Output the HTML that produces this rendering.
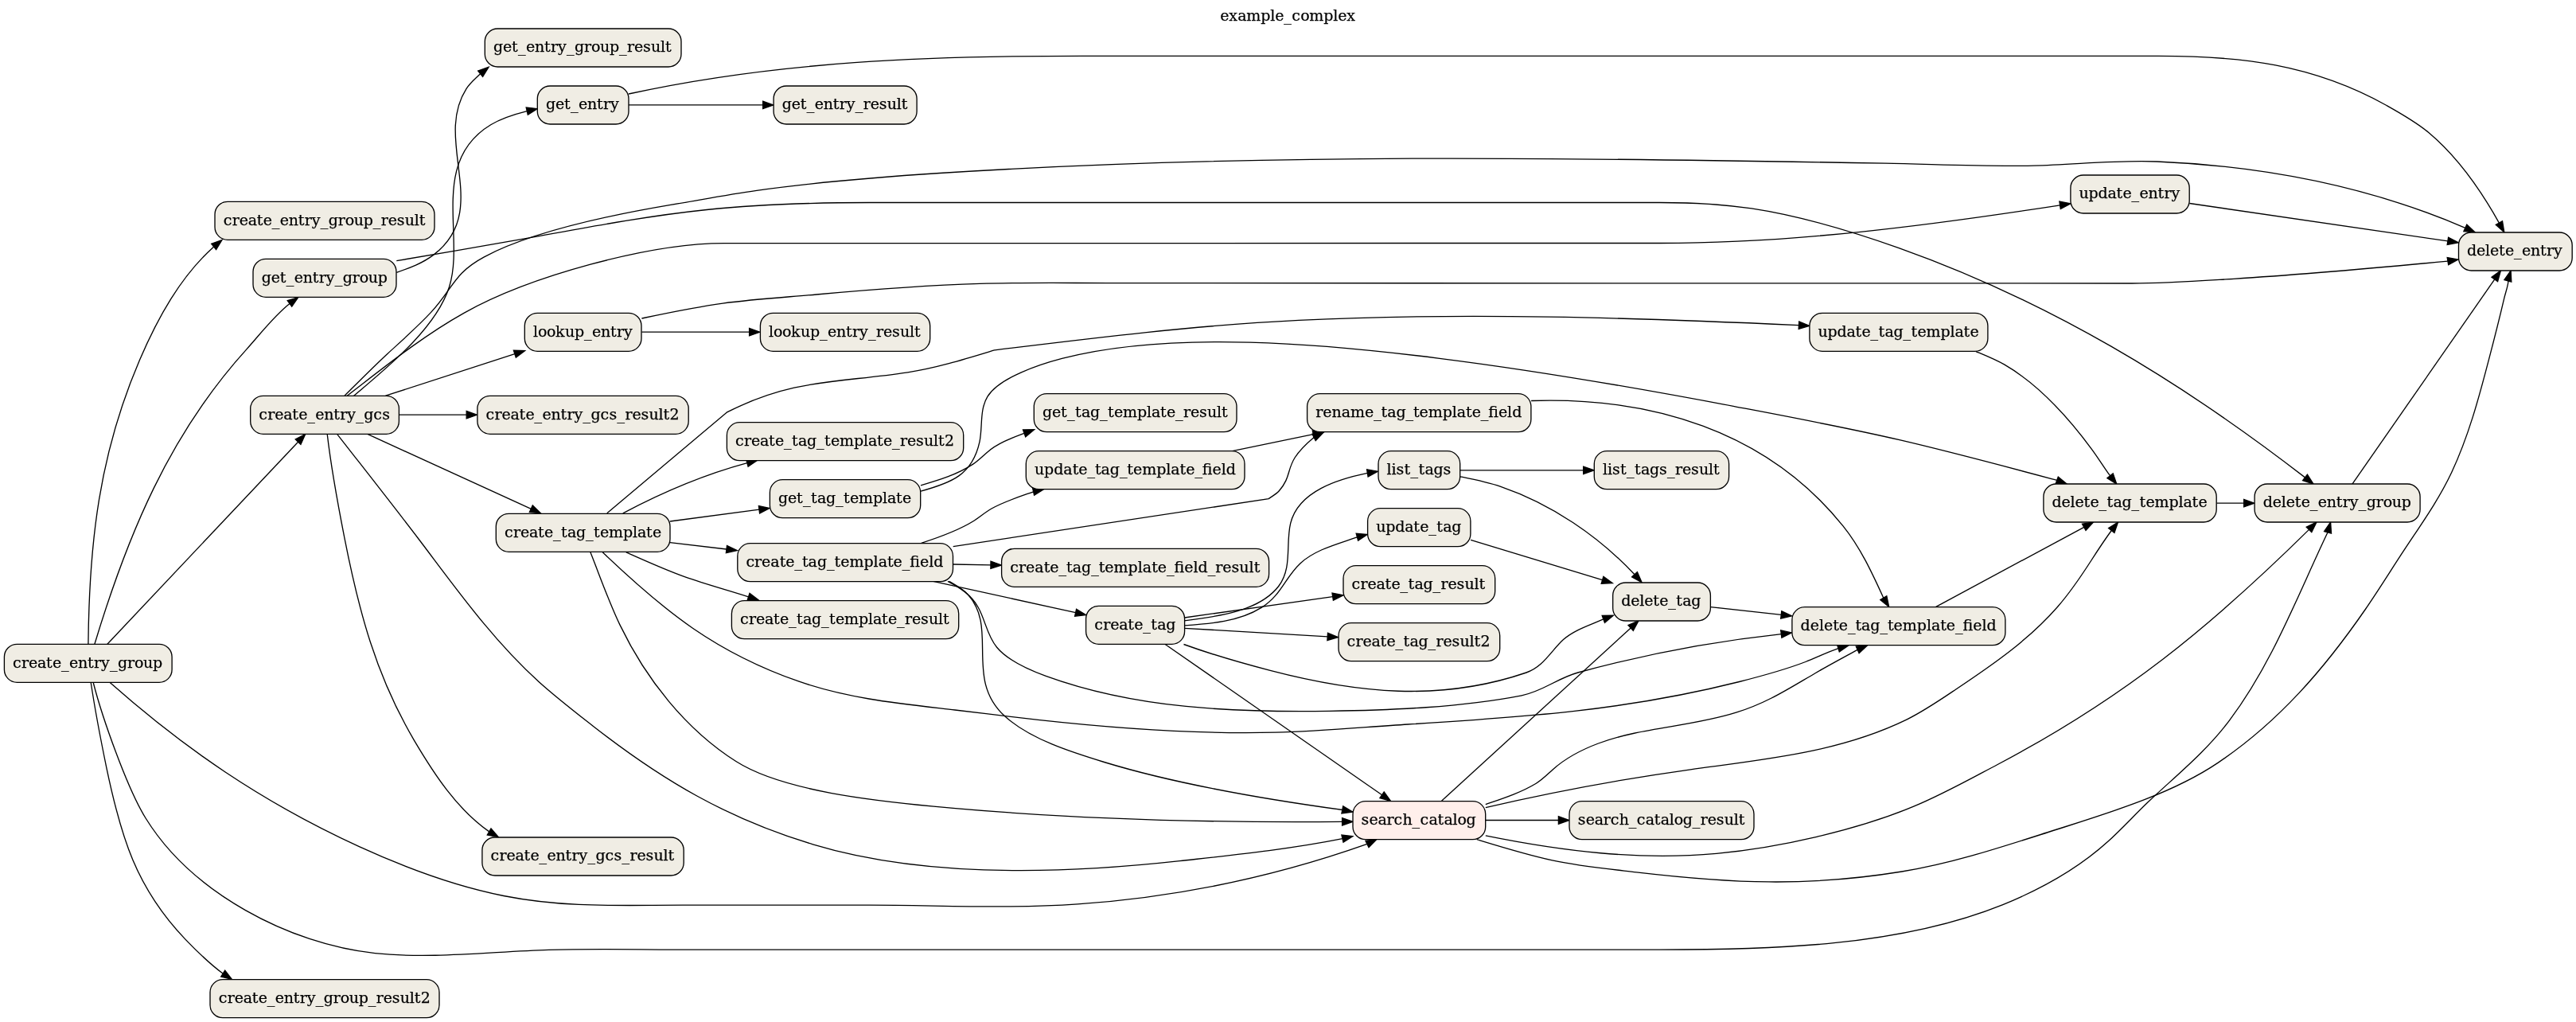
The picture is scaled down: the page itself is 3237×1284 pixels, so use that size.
<!DOCTYPE html>
<html><head><meta charset="utf-8"><title>example_complex</title>
<style>
html,body{margin:0;padding:0;background:#fff}
body{width:3237px;height:1284px;overflow:hidden}
svg{display:block;will-change:transform}
.e path{fill:none;stroke:#000;stroke-width:1.33}
.e polygon{fill:#000;stroke:#000;stroke-width:1.33}
.n rect{fill:#f0ede4;stroke:#000;stroke-width:1.33}
.n rect.p{fill:#ffefeb}
.t text{font-family:"DejaVu Serif","Liberation Serif",serif;font-size:19px;fill:#000;stroke:#000;stroke-width:0.25px}
</style></head><body>
<svg width="3237" height="1284" viewBox="0 0 3237 1284">
<g class="e">
<path d="M110.9,809.2C112,681.9 124.7,570.6 175.5,452.2C197.8,400.2 226.3,348 268.7,309.9"/><polygon points="279,301.5 271.6,313.6 265.7,306.3"/>
<path d="M118.9,809.2C160.2,672.7 212.5,546.1 309.6,439.1C327.5,419.4 343,398.2 363.9,381.5"/><polygon points="374.7,373.6 366.7,385.2 361.2,377.7"/>
<path d="M134.9,809.2L374.6,555.2"/><polygon points="383.7,545.5 377.9,558.4 371.2,552"/>
<path d="M114.2,857.5C119.7,893.6 126.5,929.1 133.9,964.8C151.8,1050.4 170.8,1115.3 232.9,1180.1C248,1195.8 262.6,1210.3 280.2,1223.2"/><polygon points="291.4,1230.4 277.7,1227.1 282.7,1219.2"/>
<path d="M117.2,857.5C128.5,901.6 159.9,990.7 183.1,1028C241.1,1121.6 363.3,1186.1 471.3,1197.6C542.3,1205.1 617.9,1195.5 689.5,1193.4C745.7,1191.7 801.8,1193.1 858,1193.1L2085.6,1193.1C2225.3,1193.1 2386,1189.5 2516.8,1136.6C2563.9,1117.5 2610.9,1091.6 2648.8,1057.3C2666.9,1040.9 2683.2,1022.8 2701,1006C2736.3,972.9 2772.1,944.2 2801.5,905.1C2855.4,833.4 2886.7,749.1 2925,668.8"/><polygon points="2928.6,656 2929.5,670.1 2920.6,667.6"/>
<path d="M138.2,857.5C184.1,898.1 232.1,935.9 283.1,970C380.9,1035.3 517.4,1102.6 632.9,1125.5C709.9,1140.8 780.5,1137.2 858,1137.2L1092.8,1137.2C1179.9,1137.2 1267.1,1141.9 1354.2,1135.9C1477.4,1127.3 1601.5,1101.6 1717.9,1060.4"/><polygon points="1729.9,1054.6 1720,1064.6 1715.9,1056.2"/>
<path d="M498.3,342.3C514.9,336.6 530.8,330.8 544.9,320.1C618.6,263.8 543.7,177.3 586.1,111.4C590.9,103.9 597.4,98.8 603.6,92.7"/><polygon points="614,84.3 606.6,96.3 600.7,89.1"/>
<path d="M498.3,327.7C553.8,318.2 609.4,308.9 664.8,298.9C739,285.4 812.9,271.3 888,263.5C956.2,256.4 1024.5,254.5 1093,254.5L2085.6,254.5C2124.2,254.5 2162.8,256.2 2201,261.9C2264.4,271.5 2325.9,290.2 2386.2,311.6C2573.7,378.3 2739.6,478.4 2896.5,599.9"/><polygon points="2907,608.1 2893.6,603.6 2899.4,596.2"/>
<path d="M444.7,497.2C486,462.1 547.7,413.1 564.6,360.2C584.6,297 539.4,203.6 616.7,156.8C631,148.2 646.2,143.7 662.2,139.7"/><polygon points="675.2,136.6 663.3,144.2 661.2,135.1"/>
<path d="M433,497.2C450.8,479.5 468.5,461.6 486.9,444.5C505.5,427.4 524.3,410.9 541.6,392.4C569.6,362.4 569.4,343.7 608.4,322.8C669.2,290.3 774,269 842.7,257.4C878.7,251.4 914.6,244.4 950.9,239.3C1027.1,228.7 1104.1,222.4 1180.9,217.5C1576.3,192.1 1973.2,198.1 2369,205.2C2431.1,206.3 2493.4,209.4 2555.5,208.1C2607.3,207 2658.7,200.8 2710.6,203C2845.3,208.7 2973.6,232.9 3097.8,286.3"/><polygon points="3110,291.8 3095.9,290.6 3099.8,282.1"/>
<path d="M436.3,497.2C483.6,460.8 530.7,422.5 582.9,393.3C665.2,347.2 815.7,305.6 910,305.6L2085.6,305.5C2254,305.5 2422.5,283.5 2588.6,257.8"/><polygon points="2601.8,255.8 2589.3,262.5 2587.9,253.2"/>
<path d="M484.6,497.2L646.8,444.7"/><polygon points="659.5,440.6 648.3,449.1 645.4,440.3"/>
<path d="M501.6,521.2L586.2,521.2"/><polygon points="599.5,521.2 586.2,525.9 586.2,516.5"/>
<path d="M461.3,545.2L667.4,639.3"/><polygon points="679.5,644.8 665.4,643.5 669.3,635"/>
<path d="M411.2,545.3C416.3,589.2 424.3,632 432.8,675.3C450.9,767.4 472.3,848.7 520.7,930.6C545.4,972.3 574.4,1016.8 614.7,1044.9"/><polygon points="626.2,1051.6 612.3,1049 617,1040.9"/>
<path d="M423.6,545.3C457.9,589.3 492.5,633.1 526.3,677.5C573.5,739.7 618.7,803.8 677,856.5C698.7,876.1 721.9,894 744.9,912C832.9,980.7 913.7,1028.4 1021.4,1060.8C1161.9,1103.1 1337.9,1097.7 1482.5,1081.7C1550.9,1074.1 1619.4,1067.2 1686.9,1053.7"/><polygon points="1699.9,1050.6 1688,1058.2 1685.9,1049.1"/>
<path d="M806.4,417.2L941.6,417.2"/><polygon points="954.9,417.2 941.6,421.9 941.6,412.5"/>
<path d="M806.4,400C840.2,392.9 874,385.7 908.2,381.1C947.3,375.9 986.7,373.5 1026,370C1094.3,363.8 1162.5,358.5 1231,356.4C1284.8,354.8 1338.7,355.6 1392.5,355.6L2678.8,356C2721.6,356 2764.2,352.9 2806.9,350.3C2896.7,344.8 2986.4,336.6 3075.9,328.1"/><polygon points="3089.1,326 3076.7,332.8 3075.2,323.5"/>
<path d="M790,131.9L958.7,131.9"/><polygon points="972,131.9 958.7,136.6 958.7,127.2"/>
<path d="M790,118C977.9,76.8 1168.4,70.3 1360,70.3L2712,70.3C2815.9,70.3 2905.7,80.7 2998.1,132C3016.5,142.3 3035.6,152.9 3051.8,166.5C3088.8,197.5 3117.1,238.3 3140.4,280.1"/><polygon points="3146.8,291.8 3136.3,282.4 3144.5,277.9"/>
<path d="M762.8,644.8L913.1,518.2C996.5,475.5 1052.8,481.2 1140.7,467.8C1177.8,462.1 1213.7,450.8 1249.5,439.9C1376.5,424.3 1504.2,408.6 1632.1,402.3C1841.7,392.1 2051,399.2 2260.5,408.6"/><polygon points="2273.8,409.3 2260.2,413.3 2260.7,403.9"/>
<path d="M782.8,644.9C833.2,618.1 883.7,596.6 938.9,581.7"/><polygon points="951.8,578.3 940.1,586.2 937.7,577.2"/>
<path d="M842,655L954,640.2"/><polygon points="967.2,638.5 954.6,644.9 953.4,635.6"/>
<path d="M842,681.6L913,690"/><polygon points="926.2,691.6 912.4,694.7 913.5,685.4"/>
<path d="M786.8,693.8C811,704.6 835.3,715.6 860.3,724.6C886.7,734 913.9,741.2 940.5,749.8"/><polygon points="953.2,754 939.1,754.3 942,745.4"/>
<path d="M757.2,693.8C835.7,768.7 899.4,819.8 1004.1,856.2C1067.4,878.2 1133.9,884.3 1200,892C1234.8,896.1 1269.6,900.5 1304.4,904.4C1401.3,915.1 1505.1,922.7 1602.6,920.2C1658.2,918.8 1713.9,913.5 1769.5,910C1915.8,900.9 2042.1,892.7 2185.6,856.5C2213.6,849.4 2241.8,841.9 2268.8,831.5C2282.7,826.1 2295.9,819.4 2310,814.6"/><polygon points="2322.8,810.9 2311.3,819 2308.7,810.1"/>
<path d="M741.9,693.8C754,724.2 764.8,755.6 779,785.1C811.5,852.7 861.4,916.3 925.2,956.8C984.5,994.4 1103.2,1006.4 1173.2,1013.1C1344,1029.4 1515,1033.8 1686.6,1032.3"/><polygon points="1699.9,1032.3 1686.6,1037 1686.6,1027.6"/>
<path d="M1157,617.1C1195,606.8 1221.9,596.9 1231,554.8C1234.9,536.5 1230.7,514.9 1241,498.2C1255.9,474.1 1308,457.3 1334.5,450.4C1473.7,414.4 1666.4,432.3 1809,450.3C1933.3,466 2056.3,487.2 2179.4,510.6C2248.8,523.8 2318.2,536.7 2386.9,552.7C2453.2,568.1 2519,585.8 2584.7,603.4"/><polygon points="2597.2,608.1 2583.1,607.8 2586.3,599.1"/>
<path d="M1157,609.8C1179.6,603.2 1202.9,596.2 1222.7,583.1C1229.1,578.9 1234.5,573.4 1240.3,568.4C1253.8,556.7 1270.6,550.6 1287.1,544.4"/><polygon points="1299.6,539.8 1288.7,548.8 1285.5,540"/>
<path d="M1157.7,682.3C1180.1,675.1 1202.5,667.4 1222.7,655C1230.7,650.1 1237.7,643.6 1246,639C1262.3,629.9 1281.1,624 1298.6,617.8"/><polygon points="1311.6,614.8 1299.6,622.3 1297.6,613.2"/>
<path d="M1197.7,686.6L1594.1,626.6C1598.6,623.3 1603.6,621.1 1607.3,616.8C1628.1,592.7 1609.6,584.1 1651.1,549.4"/><polygon points="1663,543.3 1653.2,553.5 1649,545.2"/>
<path d="M1197.7,709L1245,709.8"/><polygon points="1258.3,710 1244.9,714.4 1245,705.1"/>
<path d="M1172.7,730.3L1351.6,769.7"/><polygon points="1364.6,772.6 1350.6,774.3 1352.6,765.2"/>
<path d="M1191,730.3C1206.7,738.6 1220.4,747.2 1229.3,763.2C1238.4,779.5 1240.2,798.3 1252.6,813.2C1267,830.5 1293.6,841.8 1314.3,849.3C1427,890.4 1552,895.2 1670.8,893.4C1749.1,892.2 1835.2,888.7 1912.1,873.8C1938.5,868.8 1956.1,852.4 1982.8,845C2066.9,822 2151.6,805.9 2238.3,796.6"/><polygon points="2251.5,794.9 2238.9,801.2 2237.7,791.9"/>
<path d="M1192.7,730.3C1200.9,735.2 1209.4,739.4 1216,746.6C1255.4,789.7 1210.7,852.6 1262.9,900C1294.6,928.8 1347.1,945.2 1387.5,957.5C1478.7,985.3 1592,1004.5 1686.8,1017.5"/><polygon points="1699.9,1020 1685.9,1022 1687.7,1012.9"/>
<path d="M1547.4,566.8L1650.2,545.7"/><polygon points="1663.3,543 1651.2,550.3 1649.3,541.1"/>
<path d="M1488.5,779.8C1526.5,775 1581.7,769 1606.7,736.5C1624.2,713.8 1615.4,683.4 1621.7,657.4C1631.6,616.6 1682.7,601.6 1718.3,594.3"/><polygon points="1731.5,592.2 1719.1,598.9 1717.6,589.7"/>
<path d="M1488.5,785.8C1521.1,783.6 1556.6,781.1 1585.1,763.4C1609.8,748.1 1614.6,725.9 1633.8,707.9C1652.4,690.4 1682,683.1 1705.4,674.8"/><polygon points="1718.3,671.5 1706.6,679.3 1704.2,670.3"/>
<path d="M1488.5,776L1674.7,749.7"/><polygon points="1687.9,747.8 1675.4,754.3 1674,745"/>
<path d="M1488.5,789.3L1668.2,799.8"/><polygon points="1681.5,800.6 1667.9,804.5 1668.5,795.2"/>
<path d="M1487.5,809.5C1523.4,822.5 1559.3,832.8 1596.2,842.4C1704.6,870.7 1809.7,882.1 1918,845C1939.3,837.7 1948.7,818.2 1964.5,803.6C1977.9,791.4 1998.5,785.3 2014.8,777.9"/><polygon points="2027.3,773.2 2016.5,782.3 2013.2,773.5"/>
<path d="M1464.2,809.5L1736.6,998.7"/><polygon points="1747.5,1006.3 1733.9,1002.5 1739.2,994.9"/>
<path d="M1924.1,503.5C2073.4,498.5 2219.2,540.6 2316,660.9C2337.8,687.9 2352.5,719.8 2366.8,751.2"/><polygon points="2373.7,762.6 2362.8,753.6 2370.8,748.8"/>
<path d="M1834.8,590.8L1989.7,590.8"/><polygon points="2003,590.8 1989.7,595.5 1989.7,586.1"/>
<path d="M1834.8,598.8C1852,602.3 1869.2,605.7 1885.8,611.4C1949.1,633.1 2008.4,673.2 2054,721.8"/><polygon points="2063,731.6 2050.6,724.9 2057.4,718.6"/>
<path d="M1848.1,678.3L2013.5,728.7"/><polygon points="2026.3,732.6 2012.2,733.2 2014.9,724.3"/>
<path d="M2149.6,762.6L2238.3,772.4"/><polygon points="2251.5,773.9 2237.7,777.1 2238.8,767.8"/>
<path d="M2432.3,762.6L2618.8,662.3"/><polygon points="2630.5,656 2621,666.4 2616.5,658.2"/>
<path d="M2785.4,632.2L2819.7,632.2"/><polygon points="2833,632.2 2819.7,636.9 2819.7,627.5"/>
<path d="M2955.9,608.1L3134.8,350.9"/><polygon points="3142.4,340 3138.6,353.6 3131,348.3"/>
<path d="M2482.9,441.6C2495.1,446.7 2507.4,451.6 2518.9,458.2C2562.1,483.2 2599.4,524.9 2628.8,564.8C2636.7,575.5 2643.6,586.9 2651.5,597.7"/><polygon points="2659.8,608.1 2647.9,600.6 2655.2,594.8"/>
<path d="M2751.4,255.5L3075.9,302.9"/><polygon points="3089.1,304.8 3075.2,307.5 3076.6,298.3"/>
<path d="M1866.8,1030.5L1958.4,1030.5"/><polygon points="1971.7,1030.5 1958.4,1035.2 1958.4,1025.8"/>
<path d="M1811.5,1006.3L2049.2,788.9"/><polygon points="2059,779.9 2052.3,792.3 2046,785.5"/>
<path d="M1866.8,1010.6C1888.2,1003.2 1910.8,996 1930.3,984.2C1938.3,979.4 1944.5,972.8 1951.4,966.7C1968.5,951.4 1987.3,941.9 2008.5,934C2063.6,913.4 2122.9,913.7 2181.6,895.2C2220.8,882.9 2246.4,865.9 2281.1,845.7C2298.6,835.5 2316.5,826 2334.2,816.3"/><polygon points="2346.4,810.9 2336.1,820.6 2332.3,812"/>
<path d="M1866.8,1014.6C1952.1,994.8 2037.5,978.9 2124.3,966.8C2216.6,954 2310.6,945.6 2395.8,904.1C2417.7,893.4 2437.7,879.6 2457.9,866C2504.2,835 2549,804.3 2585.9,762C2615.4,728.2 2628.4,700.3 2653.3,666.5"/><polygon points="2661.5,656 2656.9,669.4 2649.6,663.6"/>
<path d="M1866.8,1049.9C1962.6,1069.3 2059.1,1081.3 2156.9,1072.3C2234.6,1065.2 2332.7,1043.1 2404.7,1013.2C2441,998.2 2475.5,978.8 2510.2,960.5C2667.9,877.2 2774.9,790 2901.5,665.4"/><polygon points="2911,656 2904.8,668.7 2898.2,662.1"/>
<path d="M1855.8,1054.6C1887.2,1064.2 1918.5,1073.9 1950.6,1080.8C1985.5,1088.3 2020.9,1091.7 2056.3,1095.8C2175.6,1109.7 2270.1,1114.5 2389.9,1095C2452.3,1084.9 2513.8,1064.7 2573.8,1045.5C2643.7,1023.1 2726.7,999.1 2787.4,958.1C2863.6,906.8 2921,839.9 2972.7,765C2989.1,741.2 3004.2,716.7 3020,692.7C3041.5,660 3064,629 3080.7,593.5C3101.8,548.6 3114.6,501 3127.1,453.1C3133.9,427.2 3140.5,401.3 3146.6,375.3C3148.4,367.5 3152.2,358.1 3152.3,350C3152.3,349 3152,353.5 3151.4,352.8"/><polygon points="3155.1,340 3155.8,354.1 3146.9,351.5"/>
</g><g class="n">
<rect x="5.4" y="809.3" width="210.7" height="48" rx="16"/>
<rect x="270" y="253.3" width="276" height="48" rx="16"/>
<rect x="318" y="325.3" width="180" height="48" rx="16"/>
<rect x="314.7" y="497.3" width="186.7" height="48" rx="16"/>
<rect x="264" y="1230.7" width="288" height="48" rx="16"/>
<rect x="609.3" y="36" width="246.7" height="48" rx="16"/>
<rect x="675.3" y="108" width="114.7" height="48" rx="16"/>
<rect x="659.3" y="393.3" width="146.7" height="48" rx="16"/>
<rect x="599.9" y="497.3" width="265.3" height="48" rx="16"/>
<rect x="623.3" y="645.3" width="218.7" height="48" rx="16"/>
<rect x="605.9" y="1052" width="253.3" height="48" rx="16"/>
<rect x="972.1" y="108" width="180" height="48" rx="16"/>
<rect x="955.4" y="393.3" width="213.3" height="48" rx="16"/>
<rect x="913.4" y="530.7" width="297.3" height="48" rx="16"/>
<rect x="967.4" y="602.7" width="189.3" height="48" rx="16"/>
<rect x="926.8" y="682.7" width="270.7" height="48" rx="16"/>
<rect x="919.4" y="754.7" width="285.3" height="48" rx="16"/>
<rect x="1299.3" y="494.7" width="254.7" height="48" rx="16"/>
<rect x="1289.3" y="566.7" width="274.7" height="48" rx="16"/>
<rect x="1258.6" y="689.3" width="336" height="48" rx="16"/>
<rect x="1364.6" y="761.3" width="124" height="48" rx="16"/>
<rect x="1642.6" y="494.7" width="281.3" height="48" rx="16"/>
<rect x="1732" y="566.7" width="102.7" height="48" rx="16"/>
<rect x="1718.6" y="638.7" width="129.3" height="48" rx="16"/>
<rect x="1688" y="710.7" width="190.7" height="48" rx="16"/>
<rect x="1682" y="782.7" width="202.7" height="48" rx="16"/>
<rect x="1700" y="1006.7" width="166.7" height="48" rx="16" class="p"/>
<rect x="2003.3" y="566.7" width="169.3" height="48" rx="16"/>
<rect x="2026.7" y="732" width="122.7" height="48" rx="16"/>
<rect x="1972" y="1006.7" width="232" height="48" rx="16"/>
<rect x="2273.9" y="393.3" width="224" height="48" rx="16"/>
<rect x="2251.9" y="762.7" width="268" height="48" rx="16"/>
<rect x="2601.9" y="220" width="149.3" height="48" rx="16"/>
<rect x="2567.9" y="608" width="217.3" height="48" rx="16"/>
<rect x="2833.1" y="608" width="208" height="48" rx="16"/>
<rect x="3089.5" y="292" width="142.7" height="48" rx="16"/>
</g><g class="t">
<text x="16 27 36 47 58 66 77 87 98 110 118 127 138 148 160 169 180 192" y="838.7">create_entry_group</text>
<text x="280.7 291.7 300.7 311.7 322.7 330.7 341.7 351.7 362.7 374.7 382.7 391.7 402.7 412.7 424.7 433.7 444.7 456.7 468.7 478.7 487.7 498.7 508.7 520.7 526.7" y="282.7">create_entry_group_result</text>
<text x="328.7 340.7 351.7 359.7 369.7 380.7 392.7 400.7 409.7 420.7 430.7 442.7 451.7 462.7 474.7" y="354.7">get_entry_group</text>
<text x="325.3 336.3 345.3 356.3 367.3 375.3 386.3 396.3 407.3 419.3 427.3 436.3 447.3 457.3 469.3 480.3" y="526.7">create_entry_gcs</text>
<text x="274.7 285.7 294.7 305.7 316.7 324.7 335.7 345.7 356.7 368.7 376.7 385.7 396.7 406.7 418.7 427.7 438.7 450.7 462.7 472.7 481.7 492.7 502.7 514.7 520.7 528.7" y="1260.1">create_entry_group_result2</text>
<text x="619.9 631.9 642.9 650.9 660.9 671.9 683.9 691.9 700.9 711.9 721.9 733.9 742.9 753.9 765.9 777.9 787.9 796.9 807.9 817.9 829.9 835.9" y="65.4">get_entry_group_result</text>
<text x="685.9 697.9 708.9 716.9 726.9 737.9 749.9 757.9 766.9" y="137.4">get_entry</text>
<text x="669.9 675.9 686.9 697.9 709.9 721.9 733.9 743.9 754.9 766.9 774.9 783.9" y="422.7">lookup_entry</text>
<text x="610.6 621.6 630.6 641.6 652.6 660.6 671.6 681.6 692.6 704.6 712.6 721.6 732.6 742.6 754.6 765.6 775.6 785.6 794.6 805.6 815.6 827.6 833.6 841.6" y="526.7">create_entry_gcs_result2</text>
<text x="633.9 644.9 653.9 664.9 675.9 683.9 694.9 704.9 712.9 723.9 735.9 745.9 753.9 764.9 782.9 794.9 800.9 811.9 819.9" y="674.7">create_tag_template</text>
<text x="616.6 627.6 636.6 647.6 658.6 666.6 677.6 687.6 698.6 710.6 718.6 727.6 738.6 748.6 760.6 771.6 781.6 791.6 800.6 811.6 821.6 833.6 839.6" y="1081.4">create_entry_gcs_result</text>
<text x="982.8 994.8 1005.8 1013.8 1023.8 1034.8 1046.8 1054.8 1063.8 1074.8 1084.8 1093.8 1104.8 1114.8 1126.8 1132.8" y="137.4">get_entry_result</text>
<text x="966.1 972.1 983.1 994.1 1006.1 1018.1 1030.1 1040.1 1051.1 1063.1 1071.1 1080.1 1091.1 1101.1 1110.1 1121.1 1131.1 1143.1 1149.1" y="422.7">lookup_entry_result</text>
<text x="924.1 935.1 944.1 955.1 966.1 974.1 985.1 995.1 1003.1 1014.1 1026.1 1036.1 1044.1 1055.1 1073.1 1085.1 1091.1 1102.1 1110.1 1121.1 1131.1 1140.1 1151.1 1161.1 1173.1 1179.1 1187.1" y="560.1">create_tag_template_result2</text>
<text x="978.1 990.1 1001.1 1009.1 1019.1 1027.1 1038.1 1050.1 1060.1 1068.1 1079.1 1097.1 1109.1 1115.1 1126.1 1134.1" y="632.1">get_tag_template</text>
<text x="937.4" y="712.1" textLength="248" lengthAdjust="spacing">create_tag_template_field</text>
<text x="930.1 941.1 950.1 961.1 972.1 980.1 991.1 1001.1 1009.1 1020.1 1032.1 1042.1 1050.1 1061.1 1079.1 1091.1 1097.1 1108.1 1116.1 1127.1 1137.1 1146.1 1157.1 1167.1 1179.1 1185.1" y="784.1">create_tag_template_result</text>
<text x="1309.9 1321.9 1332.9 1340.9 1350.9 1358.9 1369.9 1381.9 1391.9 1399.9 1410.9 1428.9 1440.9 1446.9 1457.9 1465.9 1476.9 1486.9 1495.9 1506.9 1516.9 1528.9 1534.9" y="524.1">get_tag_template_result</text>
<text x="1299.9" y="596.1" textLength="253" lengthAdjust="spacing">update_tag_template_field</text>
<text x="1269.3" y="718.7" textLength="314" lengthAdjust="spacing">create_tag_template_field_result</text>
<text x="1375.3 1386.3 1395.3 1406.3 1417.3 1425.3 1436.3 1446.3 1454.3 1465.3" y="790.7">create_tag</text>
<text x="1653.3" y="524.1" textLength="259" lengthAdjust="spacing">rename_tag_template_field</text>
<text x="1742.6 1748.6 1754.6 1764.6 1772.6 1782.6 1790.6 1801.6 1813.6" y="596.1">list_tags</text>
<text x="1729.3 1741.3 1753.3 1765.3 1776.3 1784.3 1795.3 1805.3 1813.3 1824.3" y="668.1">update_tag</text>
<text x="1698.6 1709.6 1718.6 1729.6 1740.6 1748.6 1759.6 1769.6 1777.6 1788.6 1800.6 1810.6 1819.6 1830.6 1840.6 1852.6 1858.6" y="740.1">create_tag_result</text>
<text x="1692.6 1703.6 1712.6 1723.6 1734.6 1742.6 1753.6 1763.6 1771.6 1782.6 1794.6 1804.6 1813.6 1824.6 1834.6 1846.6 1852.6 1860.6" y="812.1">create_tag_result2</text>
<text x="1710.6 1720.6 1731.6 1742.6 1751.6 1762.6 1774.6 1784.6 1795.6 1806.6 1814.6 1825.6 1831.6 1842.6" y="1036.1">search_catalog</text>
<text x="2014 2020 2026 2036 2044 2054 2062 2073 2085 2095 2105 2114 2125 2135 2147 2153" y="596.1">list_tags_result</text>
<text x="2037.3 2049.3 2060.3 2066.3 2077.3 2085.3 2096.3 2106.3 2114.3 2125.3" y="761.4">delete_tag</text>
<text x="1982.7 1992.7 2003.7 2014.7 2023.7 2034.7 2046.7 2056.7 2067.7 2078.7 2086.7 2097.7 2103.7 2114.7 2126.7 2136.7 2145.7 2156.7 2166.7 2178.7 2184.7" y="1036.1">search_catalog_result</text>
<text x="2284.6 2296.6 2308.6 2320.6 2331.6 2339.6 2350.6 2360.6 2368.6 2379.6 2391.6 2401.6 2409.6 2420.6 2438.6 2450.6 2456.6 2467.6 2475.6" y="422.7">update_tag_template</text>
<text x="2262.6" y="792.1" textLength="246" lengthAdjust="spacing">delete_tag_template_field</text>
<text x="2612.6 2624.6 2636.6 2648.6 2659.6 2667.6 2678.6 2688.6 2699.6 2711.6 2719.6 2728.6" y="249.4">update_entry</text>
<text x="2578.6 2590.6 2601.6 2607.6 2618.6 2626.6 2637.6 2647.6 2655.6 2666.6 2678.6 2688.6 2696.6 2707.6 2725.6 2737.6 2743.6 2754.6 2762.6" y="637.4">delete_tag_template</text>
<text x="2843.8 2855.8 2866.8 2872.8 2883.8 2891.8 2902.8 2912.8 2923.8 2935.8 2943.8 2952.8 2963.8 2973.8 2985.8 2994.8 3005.8 3017.8" y="637.4">delete_entry_group</text>
<text x="3100.1 3112.1 3123.1 3129.1 3140.1 3148.1 3159.1 3169.1 3180.1 3192.1 3200.1 3209.1" y="321.4">delete_entry</text>
<text x="1533.2 1544.2 1555.2 1566.2 1584.2 1596.2 1602.2 1613.2 1623.2 1634.2 1645.2 1663.2 1675.2 1681.2 1692.2" y="26.3">example_complex</text>
</g></svg>
</body></html>
